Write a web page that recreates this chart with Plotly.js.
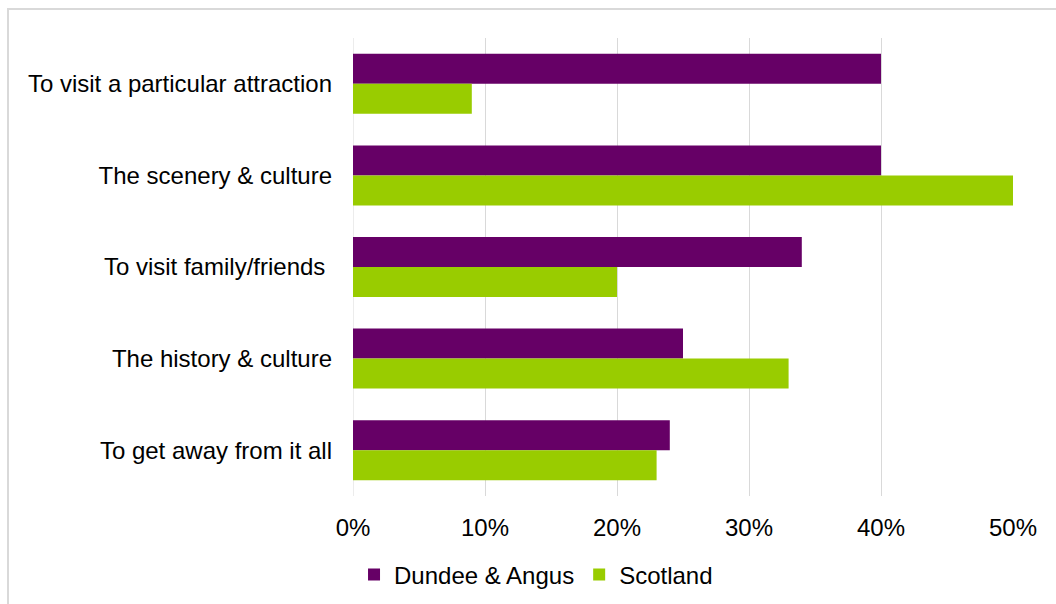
<!DOCTYPE html>
<html>
<head>
<meta charset="utf-8">
<script src="https://cdn.plot.ly/plotly-3.0.1.min.js"></script>
<style>
  html, body { margin: 0; padding: 0; background: #ffffff; overflow: hidden; }
  #frame { position: absolute; left: 7px; top: 8px; width: 1200px; height: 800px; border: 2px solid #d9d9d9; box-sizing: border-box; }
  #chart { position: absolute; left: 0; top: 0; width: 1056px; height: 604px; }
</style>
</head>
<body>
<div id="frame"></div>
<div id="chart"></div>
<script>
const categories = [
  "To visit a particular attraction",
  "The scenery & culture",
  "To visit family/friends\u00a0",
  "The history & culture",
  "To get away from it all"
];
const seriesNames = ["Dundee & Angus", "Scotland"];
const dundeeAngus = [0.40, 0.40, 0.34, 0.25, 0.24];
const scotland = [0.09, 0.50, 0.20, 0.33, 0.23];
const tickValues = [0, 0.1, 0.2, 0.3, 0.4, 0.5];
const tickLabels = ["0%", "10%", "20%", "30%", "40%", "50%"];

const font = { family: "Liberation Sans, Arial, sans-serif", size: 24, color: "#000000" };

const traces = [
  { type: "bar", orientation: "h", name: seriesNames[0], y: categories, x: dundeeAngus,
    marker: { color: "#660066" }, hoverinfo: "none" },
  { type: "bar", orientation: "h", name: seriesNames[1], y: categories, x: scotland,
    marker: { color: "#99cc00" }, hoverinfo: "none" }
];

const layout = {
  width: 1056, height: 604,
  margin: { l: 353, r: 43, t: 38, b: 108, pad: 0, autoexpand: false },
  paper_bgcolor: "rgba(0,0,0,0)",
  plot_bgcolor: "rgba(0,0,0,0)",
  font: font,
  barmode: "group",
  bargap: 0.345,
  bargroupgap: 0,
  showlegend: true,
  legend: {
    orientation: "h", xref: "container", yref: "container",
    x: 0.5076, xanchor: "center", y: 0.048, yanchor: "middle",
    font: font, traceorder: "normal", itemclick: false, itemdoubleclick: false
  },
  xaxis: {
    range: [0, 0.5], tickvals: tickValues, ticktext: tickLabels,
    showgrid: true, gridcolor: "#d9d9d9", gridwidth: 1,
    zeroline: false, showline: false, ticks: "", ticklabelstandoff: 15,
    fixedrange: true
  },
  yaxis: {
    type: "category", autorange: "reversed",
    showgrid: false, zeroline: false, showline: false, ticks: "",
    ticklabelstandoff: 20, fixedrange: true
  },
  shapes: [
    { type: "line", xref: "x", yref: "paper", x0: 0, x1: 0, y0: 0, y1: 1,
      line: { color: "#d9d9d9", width: 1 }, layer: "below" }
  ]
};

Plotly.newPlot("chart", traces, layout, { displayModeBar: false, staticPlot: true });
</script>
</body>
</html>
